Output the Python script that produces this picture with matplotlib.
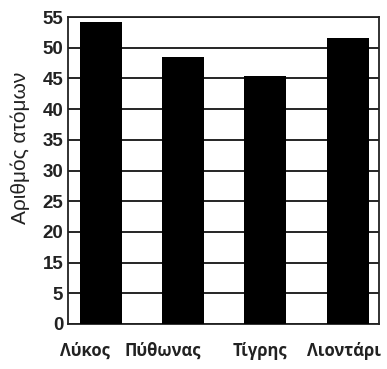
import numpy as np
import matplotlib
matplotlib.use('Agg')
import matplotlib.pyplot as plt
import matplotlib.transforms as mtransforms

# data
animals = ['Λύκος', 'Πύθωνας', 'Τίγρης', 'Λιοντάρι']
counts = [54.2, 48.5, 45.4, 51.6]
# the original axis skips 10, grid lines are evenly spaced
y_ticks = [0, 5, 15, 20, 25, 30, 35, 40, 45, 50, 55]
y_label = 'Αριθμός ατόμων'

tick_pos = np.arange(len(y_ticks))


def fwd(v):
    return np.interp(v, y_ticks, tick_pos)


def inv(p):
    return np.interp(p, tick_pos, y_ticks)


fig = plt.figure(figsize=(3.87, 3.69), dpi=100)
ax = fig.add_axes([68/387, 45/369, 311/387, 307/369])
ax.set_yscale('function', functions=(fwd, inv))

x = np.arange(len(animals))
ax.bar(x, counts, width=0.51, color='black', zorder=3)

ax.set_ylim(0, 55)
ax.set_xlim(-0.4, 3.38)
ax.set_yticks(y_ticks)
ax.set_yticklabels([str(t) for t in y_ticks], fontsize=13.5, fontweight='bold',
                   family='Liberation Sans', color='#222222')
ax.yaxis.set_minor_locator(plt.NullLocator())
ax.grid(axis='y', color='black', lw=1.2, zorder=1)
ax.tick_params(axis='y', length=0, pad=3.5)

ax.set_xticks(x)
ax.set_xticklabels(animals, fontsize=12, fontweight='bold', family='Open Sans', color='#222222')
ax.tick_params(axis='x', length=0, pad=13)
# labels in the original sit a bit left of the bars
label_dx = [-11.5, -15, -4.3, -2.9]
for lab, dx in zip(ax.get_xticklabels(), label_dx):
    lab.set_transform(lab.get_transform() + mtransforms.ScaledTranslation(dx/72, 0, fig.dpi_scale_trans))

for s in ax.spines.values():
    s.set_linewidth(1.3)
    s.set_color('#222222')

fig.text(20/387, 1 - 148/369, y_label, rotation=90, ha='center', va='center',
         fontsize=15, family='Liberation Sans', color='#222222')

fig.savefig('out.png', dpi=100)
